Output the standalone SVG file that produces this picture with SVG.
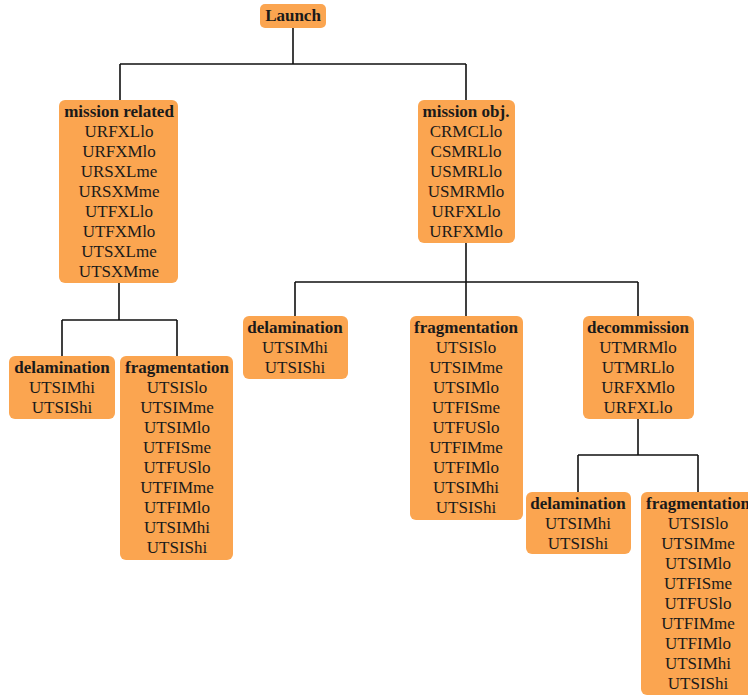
<svg xmlns="http://www.w3.org/2000/svg" width="748" height="695" viewBox="0 0 748 695">
<style>
.box{fill:#FBA550;}
text{font-size:17px;fill:#1a1a1a;text-anchor:middle;}
.t{font-weight:bold;}
.c{stroke:#111;stroke-width:1.6;fill:none;}
</style>
<rect width="748" height="695" fill="#fff"/>
<g id="connectors">
<path class="c" d="M293,27V64M120,64H466M120,64V100M466,64V100"/>
<path class="c" d="M119,283V320M62,320H177M62,320V356M177,320V356"/>
<path class="c" d="M466,243V282M295,282H638M295,282V316M466,282V316M638,282V316"/>
<path class="c" d="M638,419V455M578,455H698M578,455V492M698,455V492"/>
</g>
<g font-family="Liberation Serif, Times New Roman, DejaVu Serif, serif">
<g id="launch">
<rect class="box" x="260" y="4" width="66" height="24" rx="5"/>
<text class="t" x="293" y="21">Launch</text>
</g>
<g id="mission-related">
<rect class="box" x="59" y="100" width="119" height="183" rx="6"/>
<text class="t" x="119" y="117">mission related</text>
<text x="119" y="137">URFXLlo</text>
<text x="119" y="157">URFXMlo</text>
<text x="119" y="177">URSXLme</text>
<text x="119" y="197">URSXMme</text>
<text x="119" y="217">UTFXLlo</text>
<text x="119" y="237">UTFXMlo</text>
<text x="119" y="257">UTSXLme</text>
<text x="119" y="277">UTSXMme</text>
</g>
<g id="mission-obj">
<rect class="box" x="418" y="100" width="97" height="143" rx="6"/>
<text class="t" x="466" y="117">mission obj.</text>
<text x="466" y="137">CRMCLlo</text>
<text x="466" y="157">CSMRLlo</text>
<text x="466" y="177">USMRLlo</text>
<text x="466" y="197">USMRMlo</text>
<text x="466" y="217">URFXLlo</text>
<text x="466" y="237">URFXMlo</text>
</g>
<g id="delamination-1">
<rect class="box" x="9" y="356" width="106" height="63" rx="6"/>
<text class="t" x="62" y="373">delamination</text>
<text x="62" y="393">UTSIMhi</text>
<text x="62" y="413">UTSIShi</text>
</g>
<g id="fragmentation-1">
<rect class="box" x="120" y="356" width="113" height="204" rx="6"/>
<text class="t" x="177" y="373">fragmentation</text>
<text x="177" y="393">UTSISlo</text>
<text x="177" y="413">UTSIMme</text>
<text x="177" y="433">UTSIMlo</text>
<text x="177" y="453">UTFISme</text>
<text x="177" y="473">UTFUSlo</text>
<text x="177" y="493">UTFIMme</text>
<text x="177" y="513">UTFIMlo</text>
<text x="177" y="533">UTSIMhi</text>
<text x="177" y="553">UTSIShi</text>
</g>
<g id="delamination-2">
<rect class="box" x="243" y="316" width="105" height="63" rx="6"/>
<text class="t" x="295" y="333">delamination</text>
<text x="295" y="353">UTSIMhi</text>
<text x="295" y="373">UTSIShi</text>
</g>
<g id="fragmentation-2">
<rect class="box" x="410" y="316" width="113" height="204" rx="6"/>
<text class="t" x="466" y="333">fragmentation</text>
<text x="466" y="353">UTSISlo</text>
<text x="466" y="373">UTSIMme</text>
<text x="466" y="393">UTSIMlo</text>
<text x="466" y="413">UTFISme</text>
<text x="466" y="433">UTFUSlo</text>
<text x="466" y="453">UTFIMme</text>
<text x="466" y="473">UTFIMlo</text>
<text x="466" y="493">UTSIMhi</text>
<text x="466" y="513">UTSIShi</text>
</g>
<g id="decommission">
<rect class="box" x="583" y="316" width="111" height="103" rx="6"/>
<text class="t" x="638" y="333">decommission</text>
<text x="638" y="353">UTMRMlo</text>
<text x="638" y="373">UTMRLlo</text>
<text x="638" y="393">URFXMlo</text>
<text x="638" y="413">URFXLlo</text>
</g>
<g id="delamination-3">
<rect class="box" x="526" y="492" width="105" height="62" rx="6"/>
<text class="t" x="578" y="509">delamination</text>
<text x="578" y="529">UTSIMhi</text>
<text x="578" y="549">UTSIShi</text>
</g>
<g id="fragmentation-3">
<rect class="box" x="641" y="492" width="113" height="203" rx="6"/>
<text class="t" x="698" y="509">fragmentation</text>
<text x="698" y="529">UTSISlo</text>
<text x="698" y="549">UTSIMme</text>
<text x="698" y="569">UTSIMlo</text>
<text x="698" y="589">UTFISme</text>
<text x="698" y="609">UTFUSlo</text>
<text x="698" y="629">UTFIMme</text>
<text x="698" y="649">UTFIMlo</text>
<text x="698" y="669">UTSIMhi</text>
<text x="698" y="689">UTSIShi</text>
</g>
</g>
</svg>
